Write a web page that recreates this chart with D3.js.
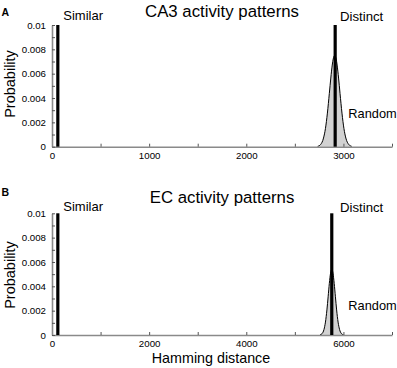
<!DOCTYPE html>
<html><head><meta charset="utf-8">
<script src="https://cdn.jsdelivr.net/npm/d3@7"></script>
<style>
html,body{margin:0;padding:0;background:#fff;}
svg text{font-family:"Liberation Sans",Arial,sans-serif;fill:#000;}
</style></head>
<body><svg id="chart" width="397" height="368"></svg>
<script>
// ---------- data ----------
const panelLetters = ["A", "B"];
const panelTitles = ["CA3 activity patterns", "EC activity patterns"];
const xMax = [3500, 7000];
const xMinorTicksA = [0, 500, 1000, 1500, 2000, 2500, 3000, 3500];
const xLabelTicksA = [0, 1000, 2000, 3000];
const xMinorTicksB = [0, 1000, 2000, 3000, 4000, 5000, 6000, 7000];
const xLabelTicksB = [0, 2000, 4000, 6000];
const yMinorTicks = [0, 0.001, 0.002, 0.003, 0.004, 0.005, 0.006, 0.007, 0.008, 0.009, 0.01];
const yLabelTicks = [0, 0.002, 0.004, 0.006, 0.008, 0.01];
const yTickText = ["0", "0.002", "0.004", "0.006", "0.008", "0.01"];
const barLabels = ["Similar", "Distinct"];
const curveLabel = "Random";

// bar positions (Hamming distance) and probabilities (delta peaks, clipped at top)
const barsA = [60, 2915];
const barsB = [120, 5760];
const barProb = [1, 1];

// "Random" distribution
const randomAx = [2735, 2765, 2795, 2815, 2835, 2855, 2870, 2885, 2895, 2910, 2925, 2935, 2950, 2965, 2985, 3005, 3025, 3055, 3085];
const randomAy = [0.00003, 0.00018, 0.00071, 0.0015, 0.00276, 0.00438, 0.00564, 0.00671, 0.00721, 0.0075, 0.00721, 0.00671, 0.00564, 0.00438, 0.00276, 0.0015, 0.00071, 0.00018, 0.00003];
const randomBx = [5520, 5560, 5600, 5630, 5660, 5685, 5710, 5735, 5760, 5785, 5810, 5835, 5860, 5890, 5920, 5960, 6000];
const randomBy = [0.00002, 0.00011, 0.00046, 0.00106, 0.00206, 0.00314, 0.00424, 0.00508, 0.0054, 0.00508, 0.00424, 0.00314, 0.00206, 0.00106, 0.00046, 0.00011, 0.00002];

const xAxisLabel = "Hamming distance";
const yAxisLabel = "Probability";

// ---------- drawing ----------
const svg = d3.select("#chart");
const font = '"Liberation Sans",Arial,sans-serif';

const panels = [
  {top: 25, bottom: 146.7, minor: xMinorTicksA, labels: xLabelTicksA, bars: barsA, rx: randomAx, ry: randomAy,
   letterY: 15.7, titleY: 17, simY: 20, distY: 20.7, randY: 118.3, ylabY: 84},
  {top: 213.3, bottom: 335, minor: xMinorTicksB, labels: xLabelTicksB, bars: barsB, rx: randomBx, ry: randomBy,
   letterY: 195.7, titleY: 203.3, simY: 210.7, distY: 211.7, randY: 310, ylabY: 275}
];

panels.forEach((p, i) => {
  const x = d3.scaleLinear().domain([0, xMax[i]]).range([52, 392]);
  const y = d3.scaleLinear().domain([0, 0.01]).range([p.bottom, p.top]).clamp(true);
  const g = svg.append("g");

  // random distribution
  const pts = p.rx.map((v, k) => [v, p.ry[k]]);
  g.append("path").datum(pts)
    .attr("d", d3.area().x(d => x(d[0])).y0(y(0)).y1(d => y(d[1])).curve(d3.curveMonotoneX))
    .attr("fill", "#d2d2d2").attr("stroke", "none");
  g.append("path").datum(pts)
    .attr("d", d3.line().x(d => x(d[0])).y(d => y(d[1])).curve(d3.curveMonotoneX))
    .attr("fill", "none").attr("stroke", "#000").attr("stroke-width", 1);

  // axes
  const xAxis = d3.axisBottom(x).tickValues(p.minor).tickSizeInner(-3).tickSizeOuter(0).tickPadding(5)
    .tickFormat(d => p.labels.includes(d) ? String(d) : "");
  const gx = g.append("g").attr("transform", `translate(0,${p.bottom})`).call(xAxis);
  const yAxis = d3.axisLeft(y).tickValues(yMinorTicks).tickSizeInner(-3).tickSizeOuter(0).tickPadding(6)
    .tickFormat(d => { const k = yLabelTicks.findIndex(v => Math.abs(v - d) < 1e-9); return k >= 0 ? yTickText[k] : ""; });
  const gy = g.append("g").attr("transform", `translate(52,0)`).call(yAxis);
  [gx, gy].forEach(a => {
    a.select(".domain").attr("stroke", "#8a8a8a").attr("stroke-width", 1.6);
    a.selectAll(".tick line").attr("stroke", "#555");
    a.selectAll("text").attr("font-size", 9.7).attr("font-family", font);
  });

  // bars
  g.selectAll("line.bar").data(p.bars).join("line").attr("class", "bar")
    .attr("x1", d => x(d)).attr("x2", d => x(d))
    .attr("y1", y(0)).attr("y2", (d, k) => y(barProb[k]))
    .attr("stroke", "#000").attr("stroke-width", 3.2);

  // texts
  g.append("text").attr("x", 1.5).attr("y", p.letterY).attr("font-size", 10.5).attr("font-weight", "bold").text(panelLetters[i]);
  g.append("text").attr("x", 222).attr("y", p.titleY).attr("text-anchor", "middle").attr("font-size", 16.8).text(panelTitles[i]);
  g.append("text").attr("x", 63.3).attr("y", p.simY).attr("font-size", 13).text(barLabels[0]);
  g.append("text").attr("x", 340).attr("y", p.distY).attr("font-size", 13.2).text(barLabels[1]);
  g.append("text").attr("x", 348.3).attr("y", p.randY).attr("font-size", 12.8).text(curveLabel);
  g.append("text").attr("transform", `translate(15,${p.ylabY}) rotate(-90)`).attr("text-anchor", "middle")
    .attr("font-size", 14.5).text(yAxisLabel);
});

svg.append("text").attr("x", 211).attr("y", 363).attr("text-anchor", "middle").attr("font-size", 14.3).text(xAxisLabel);
</script>
</body></html>
